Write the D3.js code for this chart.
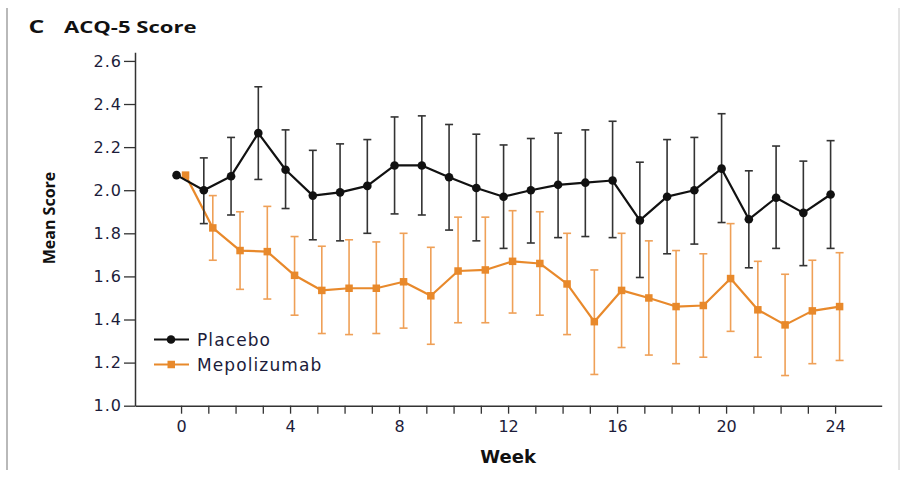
<!DOCTYPE html>
<html>
<head>
<meta charset="utf-8">
<script src="https://cdn.jsdelivr.net/npm/d3@7"></script>
<style>
  html, body { margin: 0; padding: 0; background: #fff; }
  svg { display: block; }
</style>
</head>
<body>
<svg id="chart" width="900" height="478"></svg>
<script>
// Weekly ACQ-5 mean scores with 95% CI (null = no interval shown at baseline)
const weeks = d3.range(0, 25);
const xTickLabels = [0, 4, 8, 12, 16, 20, 24];
const yTicks = [1.0, 1.2, 1.4, 1.6, 1.8, 2.0, 2.2, 2.4, 2.6];

const placeboMean = [2.07, 2.00, 2.065, 2.265, 2.095, 1.975, 1.99, 2.02, 2.115, 2.115, 2.06, 2.01, 1.97, 2.0, 2.025, 2.035, 2.045, 1.86, 1.97, 2.0, 2.1, 1.865, 1.965, 1.895, 1.98];
const placeboLow  = [null, 1.845, 1.885, 2.05, 1.915, 1.77, 1.765, 1.80, 1.89, 1.885, 1.815, 1.765, 1.73, 1.755, 1.78, 1.785, 1.78, 1.595, 1.705, 1.75, 1.85, 1.64, 1.73, 1.65, 1.73];
const placeboHigh = [null, 2.15, 2.245, 2.48, 2.28, 2.185, 2.215, 2.235, 2.34, 2.345, 2.305, 2.26, 2.21, 2.24, 2.265, 2.28, 2.32, 2.13, 2.235, 2.245, 2.355, 2.09, 2.205, 2.135, 2.23];

const mepoMean = [2.07, 1.825, 1.72, 1.715, 1.605, 1.535, 1.545, 1.545, 1.575, 1.51, 1.625, 1.63, 1.67, 1.66, 1.565, 1.39, 1.535, 1.50, 1.46, 1.465, 1.59, 1.445, 1.375, 1.44, 1.46];
const mepoLow  = [null, 1.675, 1.54, 1.495, 1.42, 1.335, 1.33, 1.335, 1.36, 1.285, 1.385, 1.385, 1.43, 1.42, 1.33, 1.145, 1.27, 1.235, 1.195, 1.225, 1.345, 1.225, 1.14, 1.195, 1.21];
const mepoHigh = [null, 1.975, 1.90, 1.925, 1.785, 1.74, 1.77, 1.76, 1.80, 1.735, 1.875, 1.875, 1.905, 1.90, 1.80, 1.63, 1.80, 1.765, 1.72, 1.705, 1.845, 1.67, 1.61, 1.675, 1.71];

const seriesNames = ["Placebo", "Mepolizumab"];

const ORANGE = "#e8892b";
const ORANGE_BAR = "#efa057";
const INK = "#1c1c3a";
const WIDE = "'DejaVu Sans', Verdana, sans-serif";
const OPEN = "'Open Sans', sans-serif";

const svg = d3.select("#chart");

const x = d3.scaleLinear().domain([-1.69, 25.71]).range([135, 881.7]);
const y = d3.scaleLinear().domain([1.0, 2.64]).range([405.7, 52.3]);

// Panel frame lines
svg.append("line").attr("x1", 7).attr("x2", 7).attr("y1", 8).attr("y2", 470)
  .attr("stroke", "#8a8a8a").attr("stroke-width", 1.2);
svg.append("line").attr("x1", 899).attr("x2", 899).attr("y1", 8).attr("y2", 470)
  .attr("stroke", "#c8c8c8").attr("stroke-width", 1);

// Panel letter and title, set in a wide bold face
svg.append("g").attr("transform", "translate(28.5,33) scale(1.38,1)")
  .append("text").attr("font-family", OPEN).attr("font-weight", 700)
  .attr("font-size", 18).attr("fill", "#111").text("C");
svg.append("g").attr("transform", "translate(64,33) scale(1.38,1)")
  .append("text").attr("font-family", OPEN).attr("font-weight", 700)
  .attr("font-size", 16).attr("fill", "#111").text("ACQ-5 Score");

// Axes
const xAxis = d3.axisBottom(x)
  .tickValues(weeks)
  .tickSize(8)
  .tickSizeOuter(0)
  .tickFormat(d => xTickLabels.includes(d) ? d : "");
const gx = svg.append("g").attr("transform", `translate(0,${y(1.0)})`).call(xAxis);

const yAxis = d3.axisLeft(y)
  .tickValues(yTicks)
  .tickSize(11)
  .tickSizeOuter(0)
  .tickFormat(d3.format(".1f"));
const gy = svg.append("g").attr("transform", `translate(${x(-1.69)},0)`).call(yAxis);

[gx, gy].forEach(g => {
  g.select(".domain").attr("stroke", "#333").attr("stroke-width", 1.5);
  g.selectAll(".tick line").attr("stroke", "#333").attr("stroke-width", 1.3);
  g.selectAll(".tick text").attr("fill", INK)
    .attr("font-family", WIDE).attr("font-size", 16);
});
gx.selectAll(".tick text").attr("dy", "0.95em");
gy.selectAll(".tick text").attr("x", -13).attr("letter-spacing", 1);

// Axis titles
svg.append("text").attr("x", x(12)).attr("y", 463)
  .attr("text-anchor", "middle")
  .attr("font-family", WIDE).attr("font-weight", 700)
  .attr("font-size", 18).attr("fill", "#111").text("Week");
svg.append("text")
  .attr("transform", "translate(55,218) rotate(-90)")
  .attr("text-anchor", "middle")
  .attr("font-family", "'Liberation Sans Narrow', 'Open Sans', sans-serif").attr("font-weight", 700)
  .attr("font-size", 16).attr("fill", "#111").text("Mean Score");

// Series rendering
const DODGE = 0.165;
function drawSeries(mean, low, high, offset, color, barColor, marker) {
  const pts = weeks.map((w, i) => ({ w: w + offset, m: mean[i], lo: low[i], hi: high[i] }));
  const g = svg.append("g");
  const bars = pts.filter(p => p.lo !== null);
  const cap = 4;
  g.selectAll(".eb").data(bars).join("line")
    .attr("x1", p => x(p.w)).attr("x2", p => x(p.w))
    .attr("y1", p => y(p.lo)).attr("y2", p => y(p.hi))
    .attr("stroke", barColor).attr("stroke-width", 1.6);
  g.selectAll(".capHi").data(bars).join("line")
    .attr("x1", p => x(p.w) - cap).attr("x2", p => x(p.w) + cap)
    .attr("y1", p => y(p.hi)).attr("y2", p => y(p.hi))
    .attr("stroke", barColor).attr("stroke-width", 1.6);
  g.selectAll(".capLo").data(bars).join("line")
    .attr("x1", p => x(p.w) - cap).attr("x2", p => x(p.w) + cap)
    .attr("y1", p => y(p.lo)).attr("y2", p => y(p.lo))
    .attr("stroke", barColor).attr("stroke-width", 1.6);
  g.append("path").datum(pts)
    .attr("d", d3.line().x(p => x(p.w)).y(p => y(p.m)))
    .attr("fill", "none").attr("stroke", color).attr("stroke-width", 2.2)
    .attr("stroke-linejoin", "round");
  if (marker === "circle") {
    g.selectAll(".mk").data(pts).join("circle")
      .attr("cx", p => x(p.w)).attr("cy", p => y(p.m)).attr("r", 4.3)
      .attr("fill", color);
  } else {
    const s = 7.5;
    g.selectAll(".mk").data(pts).join("rect")
      .attr("x", p => x(p.w) - s / 2).attr("y", p => y(p.m) - s / 2)
      .attr("width", s).attr("height", s).attr("fill", color);
  }
}

drawSeries(mepoMean, mepoLow, mepoHigh, DODGE, ORANGE, ORANGE_BAR, "square");
drawSeries(placeboMean, placeboLow, placeboHigh, -DODGE, "#111", "#333", "circle");

// Legend
const legend = svg.append("g");
const legendItems = [
  { name: seriesNames[0], color: "#111", marker: "circle", yy: 339.5 },
  { name: seriesNames[1], color: ORANGE, marker: "square", yy: 364.5 }
];
legendItems.forEach(it => {
  legend.append("line").attr("x1", 154).attr("x2", 189)
    .attr("y1", it.yy).attr("y2", it.yy)
    .attr("stroke", it.color).attr("stroke-width", 1.8);
  if (it.marker === "circle") {
    legend.append("circle").attr("cx", 171).attr("cy", it.yy).attr("r", 4.3).attr("fill", it.color);
  } else {
    legend.append("rect").attr("x", 167.5).attr("y", it.yy - 3.75)
      .attr("width", 7.5).attr("height", 7.5).attr("fill", it.color);
  }
  legend.append("text").attr("x", 197).attr("y", it.yy + 6)
    .attr("font-family", WIDE).attr("font-size", 17)
    .attr("letter-spacing", 1.1)
    .attr("fill", INK).text(it.name);
});
</script>
</body>
</html>
